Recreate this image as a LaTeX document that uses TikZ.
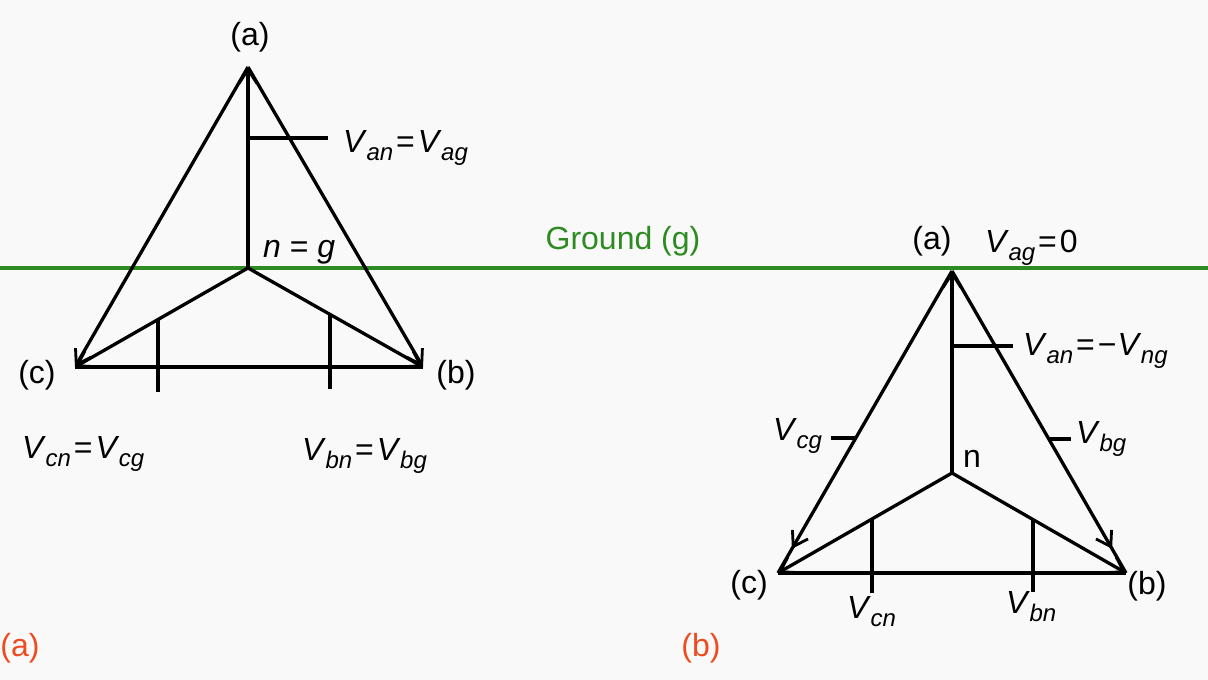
\documentclass[tikz,border=0pt]{standalone}
\usepackage{fontspec}
\setmainfont{Liberation Sans}
\usetikzlibrary{arrows.meta,decorations.markings}
\definecolor{bg}{HTML}{F9F9F9}
\definecolor{gnd}{HTML}{2E8B22}
\definecolor{cap}{HTML}{EE4B1E}
\newcommand\Vx[1]{\textit{V}\kern-0.5pt\raisebox{-8pt}{\fontsize{24}{24}\selectfont\textit{#1}}}
\newcommand\eqs{\kern3pt=\kern3pt}
\tikzset{
  wire/.style={line width=3.3pt, line join=round},
  tip/.style={-{Straight Barb[length=14pt,width=18pt,line width=2.8pt]}},
  lbl/.style={inner sep=0pt, font=\fontsize{32}{38}\selectfont},
  blbl/.style={lbl, anchor=base west},
  midtip/.style={postaction={decorate}, decoration={markings,
    mark=at position #1 with {\arrow{Straight Barb[length=14pt,width=18pt,line width=2.8pt]}}}}
}
\begin{document}
\begin{tikzpicture}[x=1pt,y=-1pt]
\fill[bg] (0,0) rectangle (1208,680);
\useasboundingbox (0,0) rectangle (1208,680);

% ground
\coordinate (gl) at (0,268);
\coordinate (gr) at (1208,268);
\draw[gnd, line width=3.2pt] (gl) -- (gr);
\node[lbl, text=gnd] (ground) at (623,241) {Ground (g)};

% ---------- left diagram ----------
\coordinate (a1) at (248,67);
\coordinate (n1) at (248,268);
\coordinate (c1) at (75,367);
\coordinate (b1) at (423,367);
\draw[wire] (c1) -- (b1);
\draw[wire,tip] (a1) -- (c1);
\draw[wire,tip] (a1) -- (b1);
\draw[wire,tip] (n1) -- (c1);
\draw[wire,tip] (n1) -- (b1);
\draw[wire,tip] (n1) -- (a1);

\coordinate (t1s) at (248,138);
\coordinate (t1e) at (328,138);
\draw[wire] (t1s) -- (t1e);
\coordinate (t2s) at (158,319.5);
\coordinate (t2e) at (158,392);
\draw[wire] (t2s) -- (t2e);
\coordinate (t3s) at (330,314.5);
\coordinate (t3e) at (330,389);
\draw[wire] (t3s) -- (t3e);

\node[lbl] (la1) at (250,37) {(a)};
\node[lbl] (lc1) at (37,375) {(c)};
\node[lbl] (lb1) at (456,375) {(b)};
\node[blbl] (van1) at (343,152) {\Vx{an}\eqs\Vx{ag}};
\node[blbl] (ng1) at (263,257) {\textit{n} = \textit{g}};
\node[blbl] (vcn1) at (22,458) {\Vx{cn}\eqs\Vx{cg}};
\node[blbl] (vbn1) at (302,460) {\Vx{bn}\eqs\Vx{bg}};

% ---------- right diagram ----------
\coordinate (a2) at (952,271);
\coordinate (n2) at (952,473);
\coordinate (c2) at (778,573);
\coordinate (b2) at (1126,573);
\draw[wire] (c2) -- (b2);
\draw[wire,midtip=0.92] (a2) -- (c2);
\draw[wire,midtip=0.92] (a2) -- (b2);
\draw[wire,tip] (n2) -- (c2);
\draw[wire,tip] (n2) -- (b2);
\draw[wire,tip] (n2) -- (a2);

\coordinate (r1s) at (952,346);
\coordinate (r1e) at (1013,346);
\draw[wire] (r1s) -- (r1e);
\coordinate (r2s) at (831,438);
\coordinate (r2e) at (856,438);
\draw[wire] (r2s) -- (r2e);
\coordinate (r3s) at (1049,439);
\coordinate (r3e) at (1071,439);
\draw[wire] (r3s) -- (r3e);
\coordinate (r4s) at (872,519);
\coordinate (r4e) at (872,593);
\draw[wire] (r4s) -- (r4e);
\coordinate (r5s) at (1033,519.5);
\coordinate (r5e) at (1033,592);
\draw[wire] (r5s) -- (r5e);

\node[lbl] (la2) at (932,241) {(a)};
\node[blbl] (vag2) at (985,252) {\Vx{ag}\eqs0};
\node[blbl] (van2) at (1023,355) {\Vx{an}\eqs−\kern1pt\Vx{ng}};
\node[blbl] (vcg2) at (773,440) {\Vx{cg}};
\node[blbl] (vbg2) at (1076,443) {\Vx{bg}};
\node[blbl] (nn2) at (963,467) {n};
\node[blbl] (vcn2) at (847,618) {\Vx{cn}};
\node[blbl] (vbn2) at (1006,613) {\Vx{bn}};
\node[lbl] (lc2) at (749,585) {(c)};
\node[lbl] (lb2) at (1147,586) {(b)};

% captions
\node[lbl, text=cap] (capa) at (20,648) {(a)};
\node[lbl, text=cap] (capb) at (701,648) {(b)};
\end{tikzpicture}
\end{document}
